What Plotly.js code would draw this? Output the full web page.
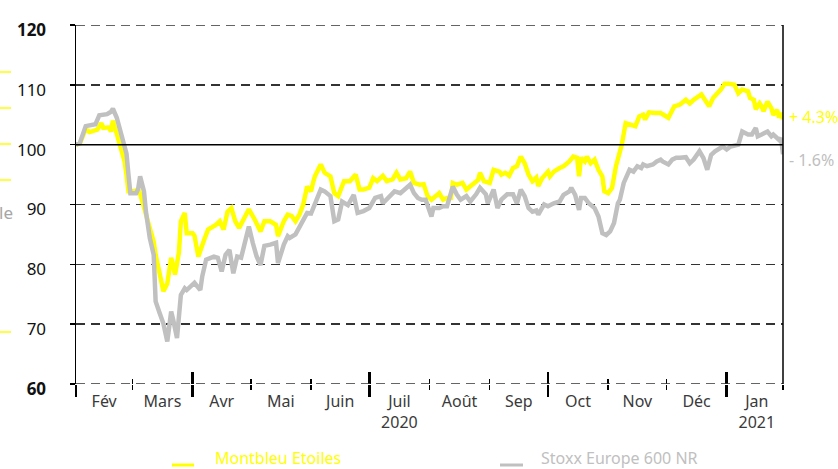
<!DOCTYPE html>
<html>
<head>
<meta charset="utf-8">
<script src="https://cdn.plot.ly/plotly-3.0.1.min.js"></script>
<style>
  html, body { margin: 0; padding: 0; background: #ffffff; }
  #chart { width: 838px; height: 469px; }
</style>
</head>
<body>
<div id="chart"></div>
<script>
// ---------------- DATA ----------------
const seriesNames = ['Montbleu Etoiles', 'Stoxx Europe 600 NR'];
const seriesColors = ['#FFFF00', '#C0C0C0'];

const montbleuDates = [
  '2020-02-01','2020-02-03','2020-02-06','2020-02-08','2020-02-12','2020-02-14','2020-02-15','2020-02-18','2020-02-19','2020-02-20',
  '2020-02-22','2020-02-23','2020-02-26','2020-02-27','2020-02-28','2020-03-02','2020-03-04','2020-03-05','2020-03-08','2020-03-10',
  '2020-03-12','2020-03-13','2020-03-15','2020-03-17','2020-03-19','2020-03-21','2020-03-23','2020-03-25','2020-03-26','2020-03-28',
  '2020-03-29','2020-04-01','2020-04-02','2020-04-04','2020-04-07','2020-04-09','2020-04-13','2020-04-15','2020-04-17','2020-04-19',
  '2020-04-21','2020-04-23','2020-04-25','2020-04-27','2020-04-30','2020-05-03','2020-05-06','2020-05-08','2020-05-11','2020-05-14',
  '2020-05-15','2020-05-18','2020-05-20','2020-05-22','2020-05-24','2020-05-26','2020-05-28','2020-05-30','2020-06-01','2020-06-02',
  '2020-06-03','2020-06-06','2020-06-08','2020-06-11','2020-06-13','2020-06-15','2020-06-18','2020-06-21','2020-06-24','2020-06-26',
  '2020-06-28','2020-07-01','2020-07-03','2020-07-05','2020-07-08','2020-07-10','2020-07-13','2020-07-15','2020-07-17','2020-07-20',
  '2020-07-22','2020-07-24','2020-07-27','2020-07-29','2020-07-31','2020-08-02','2020-08-04','2020-08-06','2020-08-08','2020-08-10',
  '2020-08-12','2020-08-13','2020-08-15','2020-08-18','2020-08-20','2020-08-23','2020-08-26','2020-08-27','2020-08-29','2020-09-01',
  '2020-09-03','2020-09-06','2020-09-07','2020-09-09','2020-09-11','2020-09-13','2020-09-15','2020-09-17','2020-09-19','2020-09-21',
  '2020-09-23','2020-09-25','2020-09-26','2020-09-28','2020-10-01','2020-10-02','2020-10-04','2020-10-07','2020-10-09','2020-10-12',
  '2020-10-14','2020-10-16','2020-10-17','2020-10-18','2020-10-20','2020-10-21','2020-10-23','2020-10-25','2020-10-27','2020-10-29',
  '2020-10-30','2020-11-01','2020-11-03','2020-11-05','2020-11-07','2020-11-08','2020-11-10','2020-11-13','2020-11-15','2020-11-17',
  '2020-11-19','2020-11-20','2020-11-22','2020-11-25','2020-11-28','2020-12-02','2020-12-05','2020-12-08','2020-12-11','2020-12-13',
  '2020-12-15','2020-12-19','2020-12-21','2020-12-23','2020-12-25','2020-12-26','2020-12-29','2020-12-31','2021-01-02','2021-01-05',
  '2021-01-07','2021-01-09','2021-01-12','2021-01-13','2021-01-15','2021-01-16','2021-01-18','2021-01-19','2021-01-20','2021-01-22',
  '2021-01-24','2021-01-25','2021-01-27','2021-01-28','2021-01-29','2021-01-30'
];
const montbleuValues = [
  100.0,100.2,102.6,102.1,102.5,103.6,102.8,102.9,102.2,104.0,
  101.8,100.6,97.2,95.0,92.2,92.2,92.5,91.8,88.3,85.5,
  83.8,81.6,78.3,75.5,76.8,81.1,78.3,82.0,87.2,88.6,
  85.2,85.2,84.8,81.3,84.1,85.8,86.6,87.2,85.8,88.8,
  89.4,87.2,86.1,87.5,89.2,87.5,85.5,87.2,87.2,86.6,
  84.7,87.2,88.3,88.1,87.2,88.3,90.0,93.0,92.2,93.6,
  94.7,96.7,95.3,94.7,91.9,91.4,93.9,93.9,95.0,92.5,
  92.5,92.8,94.4,93.9,94.8,93.9,94.2,95.3,94.2,94.4,
  95.5,93.6,93.3,93.4,91.4,90.8,91.4,91.9,90.8,91.1,
  91.1,93.6,93.3,93.6,92.5,93.3,94.1,95.3,93.9,93.6,
  95.8,95.5,95.0,95.3,94.8,96.1,96.4,98.0,96.9,95.0,
  93.9,94.5,93.1,94.4,95.5,94.7,95.5,96.1,96.4,97.2,
  98.0,97.8,94.7,97.8,97.2,98.0,96.9,97.5,95.8,94.7,
  92.2,91.9,92.8,96.4,98.6,100.0,103.6,103.4,103.1,104.7,
  105.0,104.2,105.4,105.3,105.3,104.5,106.4,106.7,107.5,106.9,
  107.5,108.4,107.5,106.4,107.8,108.1,109.2,110.2,110.2,110.0,
  108.6,109.2,108.9,107.8,107.5,105.9,106.9,106.4,105.6,107.2,
  106.1,105.0,105.8,104.5,105.3,104.3
];

const stoxxDates = [
  '2020-02-01','2020-02-03','2020-02-06','2020-02-09','2020-02-11','2020-02-13','2020-02-17','2020-02-19','2020-02-20','2020-02-22',
  '2020-02-24','2020-02-26','2020-02-27','2020-02-28','2020-02-29','2020-03-03','2020-03-04','2020-03-05','2020-03-07','2020-03-08',
  '2020-03-10','2020-03-12','2020-03-13','2020-03-15','2020-03-17','2020-03-19','2020-03-21','2020-03-22','2020-03-24','2020-03-26',
  '2020-03-28','2020-03-29','2020-04-01','2020-04-02','2020-04-05','2020-04-06','2020-04-08','2020-04-12','2020-04-14','2020-04-16',
  '2020-04-18','2020-04-20','2020-04-22','2020-04-24','2020-04-26','2020-04-28','2020-04-30','2020-05-02','2020-05-04','2020-05-06',
  '2020-05-08','2020-05-11','2020-05-14','2020-05-15','2020-05-18','2020-05-20','2020-05-21','2020-05-24','2020-05-26','2020-05-28',
  '2020-05-30','2020-06-01','2020-06-03','2020-06-06','2020-06-08','2020-06-11','2020-06-13','2020-06-15','2020-06-17','2020-06-20',
  '2020-06-23','2020-06-25','2020-06-28','2020-07-01','2020-07-04','2020-07-07','2020-07-08','2020-07-11','2020-07-14','2020-07-17',
  '2020-07-20','2020-07-22','2020-07-24','2020-07-26','2020-07-28','2020-07-30','2020-08-02','2020-08-03','2020-08-06','2020-08-08',
  '2020-08-10','2020-08-13','2020-08-15','2020-08-17','2020-08-20','2020-08-22','2020-08-25','2020-08-27','2020-08-30','2020-08-31',
  '2020-09-03','2020-09-05','2020-09-07','2020-09-10','2020-09-13','2020-09-15','2020-09-17','2020-09-19','2020-09-21','2020-09-23',
  '2020-09-25','2020-09-26','2020-09-29','2020-10-01','2020-10-04','2020-10-07','2020-10-09','2020-10-12','2020-10-13','2020-10-15',
  '2020-10-17','2020-10-18','2020-10-20','2020-10-22','2020-10-25','2020-10-27','2020-10-29','2020-10-31','2020-11-02','2020-11-04',
  '2020-11-06','2020-11-07','2020-11-09','2020-11-12','2020-11-14','2020-11-16','2020-11-18','2020-11-19','2020-11-21','2020-11-24',
  '2020-11-26','2020-11-28','2020-11-29','2020-12-02','2020-12-04','2020-12-06','2020-12-08','2020-12-11','2020-12-13','2020-12-15',
  '2020-12-18','2020-12-20','2020-12-22','2020-12-24','2020-12-26','2020-12-30','2021-01-01','2021-01-03','2021-01-07','2021-01-09',
  '2021-01-12','2021-01-14','2021-01-16','2021-01-17','2021-01-19','2021-01-22','2021-01-24','2021-01-25','2021-01-28','2021-01-29',
  '2021-01-30'
];
const stoxxValues = [
  100.0,100.3,103.1,103.3,103.4,104.9,105.1,105.5,106.0,104.5,
  101.9,100.0,98.5,95.0,91.9,91.9,92.6,94.7,92.2,88.8,
  84.4,81.6,73.8,71.9,70.1,67.1,72.1,70.8,67.7,74.9,
  76.0,75.7,76.6,76.9,75.7,78.0,80.8,81.3,81.1,78.8,
  81.6,82.4,78.5,81.3,81.1,83.6,86.3,83.6,81.3,79.9,
  83.1,83.3,83.6,80.2,83.3,84.7,84.4,85.0,86.1,87.2,
  88.6,88.5,90.2,92.5,92.2,91.4,87.2,87.5,90.5,89.9,
  91.6,88.6,88.9,89.4,91.1,91.4,90.2,91.1,92.2,91.9,
  92.8,93.3,91.9,91.1,90.8,90.8,88.0,89.4,89.4,89.7,
  89.7,93.0,91.7,90.8,91.4,90.5,91.7,92.8,91.7,90.2,
  92.5,89.4,90.8,91.7,91.7,90.2,92.5,91.4,89.4,88.8,
  89.0,88.3,90.0,89.7,90.2,90.5,91.6,92.2,92.8,91.6,
  89.1,91.1,91.1,90.2,89.4,88.0,85.2,84.9,85.5,86.9,
  90.2,90.8,93.6,95.8,95.5,96.4,96.1,96.7,96.4,96.7,
  97.2,97.5,97.2,96.7,97.5,97.8,97.8,97.9,96.9,97.5,
  98.9,97.8,95.8,98.3,98.9,99.7,99.2,99.7,100.0,102.2,
  101.7,101.7,102.8,101.4,101.7,102.2,101.4,101.7,100.8,101.1,
  98.4
];

// axis / tick data
const baseValue = 100;
const yTickValues = [60, 70, 80, 90, 100, 110, 120];
const yBoldTicks = [60, 120];
const monthBounds = ['2020-02-01','2020-03-01','2020-04-01','2020-05-01','2020-06-01','2020-07-01',
                     '2020-08-01','2020-09-01','2020-10-01','2020-11-01','2020-12-01','2021-01-01','2021-02-01'];
const monthLabels = ['Fév','Mars','Avr','Mai','Juin','Juil','Août','Sep','Oct','Nov','Déc','Jan'];
const yearLabels  = ['','','','','','2020','','','','','','2021'];
const quarterStarts = ['2020-02-01','2020-04-01','2020-07-01','2020-10-01','2021-01-01'];
const xRange = ['2020-02-01', '2021-01-30'];

// ---------------- BUILD ----------------
function fmtDate(ms) {
  const d = new Date(ms);
  const p = n => String(n).padStart(2, '0');
  return d.getUTCFullYear() + '-' + p(d.getUTCMonth() + 1) + '-' + p(d.getUTCDate()) + ' ' +
         p(d.getUTCHours()) + ':' + p(d.getUTCMinutes());
}
const monthMids = [];
for (let i = 0; i < monthLabels.length; i++) {
  const a = Date.parse(monthBounds[i] + 'T00:00:00Z');
  const b = Date.parse(monthBounds[i + 1] + 'T00:00:00Z');
  monthMids.push(fmtDate((a + b) / 2));
}
const monthText = monthLabels.map((m, i) => yearLabels[i] ? m + '<br>' + yearLabels[i] : m);
const monthTickMarks = monthBounds.slice(0, monthBounds.length - 1).concat([xRange[1]]);
const yTickText = yTickValues.map(v => yBoldTicks.includes(v) ? '<b>' + v + '</b>' : String(v));
const yMin = yTickValues[0], yMax = yTickValues[yTickValues.length - 1];

const traces = [
  { x: montbleuDates, y: montbleuValues, type: 'scatter', mode: 'lines', name: seriesNames[0],
    line: { color: seriesColors[0], width: 4.5 }, hoverinfo: 'skip' },
  { x: stoxxDates, y: stoxxValues, type: 'scatter', mode: 'lines', name: seriesNames[1],
    line: { color: seriesColors[1], width: 4.5 }, hoverinfo: 'skip' },
  // helper empty traces so overlay tick axes are drawn
  { x: [xRange[0]], y: [null], xaxis: 'x2', yaxis: 'y', mode: 'lines', showlegend: false, hoverinfo: 'skip' },
  { x: [xRange[0]], y: [null], xaxis: 'x3', yaxis: 'y', mode: 'lines', showlegend: false, hoverinfo: 'skip' }
];

const lastM = montbleuValues[montbleuValues.length - 1];
const lastS = stoxxValues[stoxxValues.length - 1];
function pctText(v) {
  const p = v - baseValue;
  return (p >= 0 ? '+ ' : '- ') + Math.abs(p).toFixed(1) + '%';
}

const tickAxisCommon = {
  type: 'date', range: xRange, overlaying: 'x', anchor: 'y', side: 'bottom',
  showgrid: false, zeroline: false, showline: false, showticklabels: false,
  tickmode: 'array', tickvals: quarterStarts, ticklen: 12, tickwidth: 2.5, tickcolor: '#000000',
  minor: { tickmode: 'array', tickvals: monthTickMarks, ticklen: 5, tickwidth: 1.5, tickcolor: '#000000' }
};

const gridDash = '9px,6px';
const layout = {
  width: 838, height: 469,
  margin: { l: 76, r: 55, t: 25, b: 85 },
  paper_bgcolor: '#ffffff', plot_bgcolor: '#ffffff',
  font: { family: 'Noto Sans, Open Sans, sans-serif', color: '#000000' },
  showlegend: false,
  xaxis: {
    type: 'date', range: xRange,
    showgrid: false, zeroline: false, showline: false,
    tickmode: 'array', tickvals: monthMids, ticktext: monthText,
    ticks: '', ticklabelstandoff: 6,
    tickfont: { size: 16, color: '#3a3a3a', family: 'Noto Sans, sans-serif' }
  },
  xaxis2: Object.assign({}, tickAxisCommon, { ticks: 'outside', minor: Object.assign({}, tickAxisCommon.minor, { ticks: 'outside' }) }),
  xaxis3: Object.assign({}, tickAxisCommon, { ticks: 'inside', minor: Object.assign({}, tickAxisCommon.minor, { ticks: 'inside' }) }),
  yaxis: {
    range: [yMin, yMax],
    tickmode: 'array', tickvals: yTickValues, ticktext: yTickText,
    ticks: 'outside', ticklen: 5, tickwidth: 1.5, tickcolor: '#000000',
    ticklabelstandoff: 20, ticklabelshift: 5,
    tickfont: { size: 17, color: '#111111', family: 'Noto Sans, sans-serif' },
    showline: true, linecolor: '#000000', linewidth: 1.5, mirror: false,
    showgrid: true, gridcolor: '#333333', gridwidth: 1.5, griddash: gridDash,
    zeroline: false
  },
  shapes: [
    // dashed grid lines at the range edges
    { type: 'line', xref: 'paper', x0: 0, x1: 1, yref: 'y', y0: yMax, y1: yMax,
      line: { color: '#333333', width: 1.5, dash: gridDash } },
    { type: 'line', xref: 'paper', x0: 0, x1: 1, yref: 'y', y0: yMin, y1: yMin,
      line: { color: '#333333', width: 1.5, dash: gridDash } },
    // base line at 100
    { type: 'line', xref: 'paper', x0: 0, x1: 1, yref: 'y', y0: baseValue, y1: baseValue,
      line: { color: '#000000', width: 1.5 } },
    // right border
    { type: 'line', xref: 'paper', x0: 1, x1: 1, yref: 'paper', y0: 0, y1: 1,
      line: { color: '#000000', width: 1.5 } },
    // custom legend samples
    { type: 'line', xref: 'paper', yref: 'paper', x0: (172 - 76) / 707, x1: (194 - 76) / 707,
      y0: (384 - 465) / 359, y1: (384 - 465) / 359, line: { color: seriesColors[0], width: 3 } },
    { type: 'line', xref: 'paper', yref: 'paper', x0: (500 - 76) / 707, x1: (523 - 76) / 707,
      y0: (384 - 465) / 359, y1: (384 - 465) / 359, line: { color: seriesColors[1], width: 3 } },
    // clipped fragments at the left edge of the reference image
    ...[72, 108, 144, 180, 332].map(py => ({
      type: 'line', xref: 'paper', yref: 'paper', x0: (0 - 76) / 707, x1: (11 - 76) / 707,
      y0: (384 - py) / 359, y1: (384 - py) / 359, line: { color: '#FFFF00', width: 1.5 }
    }))
  ],
  annotations: [
    { xref: 'paper', x: 1, xanchor: 'left', xshift: 4, yref: 'y', y: lastM, yshift: 2, yanchor: 'middle',
      text: pctText(lastM), showarrow: false, font: { size: 16, color: seriesColors[0] } },
    { xref: 'paper', x: 1, xanchor: 'left', xshift: 4, yref: 'y', y: lastS, yshift: -6, yanchor: 'middle',
      text: pctText(lastS), showarrow: false, font: { size: 16, color: seriesColors[1] } },
    { xref: 'paper', x: (213 - 76) / 707, xanchor: 'left', yref: 'paper', y: (384 - 458) / 359, yanchor: 'middle',
      text: seriesNames[0], showarrow: false, font: { size: 16, color: seriesColors[0] } },
    { xref: 'paper', x: (539 - 76) / 707, xanchor: 'left', yref: 'paper', y: (384 - 458) / 359, yanchor: 'middle',
      text: seriesNames[1], showarrow: false, font: { size: 16, color: seriesColors[1] } },
    { xref: 'paper', x: (0 - 76) / 707, xanchor: 'left', xshift: -3, yref: 'paper', y: (384 - 212) / 359, yanchor: 'middle',
      text: 'le', showarrow: false, font: { size: 17, color: '#A6A6A6' } }
  ]
};

Plotly.newPlot('chart', traces, layout, { staticPlot: true, displayModeBar: false });
</script>
</body>
</html>
